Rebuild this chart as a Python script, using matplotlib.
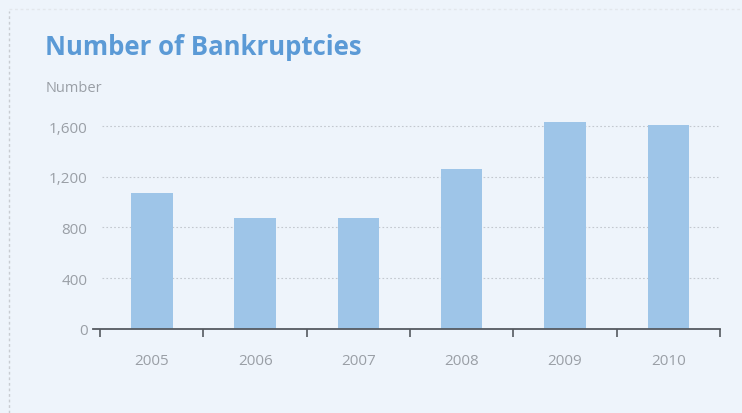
import matplotlib.pyplot as plt
from matplotlib.ticker import FixedLocator, FuncFormatter

# Number of bankruptcies per year
years = ["2005", "2006", "2007", "2008", "2009", "2010"]
bankruptcies = [1072, 875, 875, 1262, 1634, 1610]
yticks = [0, 400, 800, 1200, 1600]

plt.rcParams["font.family"] = ["Open Sans", "DejaVu Sans"]

bg = "#eef4fb"
grey = "#9a9fa6"
fig = plt.figure(figsize=(7.42, 4.14), dpi=100, facecolor=bg)
ax = fig.add_axes([0.1253, 0.203, 0.845, 0.5055], facecolor=bg)

pos = list(range(len(years)))
ax.bar(pos, bankruptcies, width=0.4, color="#9ec5e8", zorder=2)

ax.set_xlim(-0.57, 5.5)
ax.set_ylim(0, 1650)

# gridlines
for y in yticks[1:]:
    ax.plot([-0.48, 5.48], [y, y], color="#c3c8cf", lw=0.8, ls=(0, (1.5, 2)), zorder=1)

ax.set_yticks(yticks)
ax.yaxis.set_major_formatter(FuncFormatter(lambda v, p: f"{int(v):,}"))
ax.tick_params(axis="y", length=0, labelsize=11, labelcolor=grey, pad=4)

ax.set_xticks(pos)
ax.set_xticklabels(years)
ax.tick_params(axis="x", which="major", length=0, labelsize=11, labelcolor=grey, pad=17)
ax.xaxis.set_minor_locator(FixedLocator([i - 0.5 for i in range(len(years) + 1)]))
ax.tick_params(axis="x", which="minor", length=6, width=1.2, color="#555a60", direction="out")

for s in ["top", "right", "left"]:
    ax.spines[s].set_visible(False)
ax.spines["bottom"].set_color("#555a60")
ax.spines["bottom"].set_linewidth(1.3)

fig.text(0.061, 0.885, "Number of Bankruptcies", fontsize=18.5, fontweight="bold",
         color="#5b9ad6", ha="left", va="center")
fig.text(0.061, 0.787, "Number", fontsize=10.5, color=grey, ha="left", va="center")

# faint frame lines of the scanned panel
fig.add_artist(plt.Line2D([0.012, 0.012], [0.0, 0.97], color="#c8ccd2", lw=1, ls=(0, (2, 2))))
fig.add_artist(plt.Line2D([0.012, 1.0], [0.975, 0.975], color="#e3e7ec", lw=1, ls=(0, (2, 2))))

fig.savefig("out.png", dpi=100, facecolor=bg)
